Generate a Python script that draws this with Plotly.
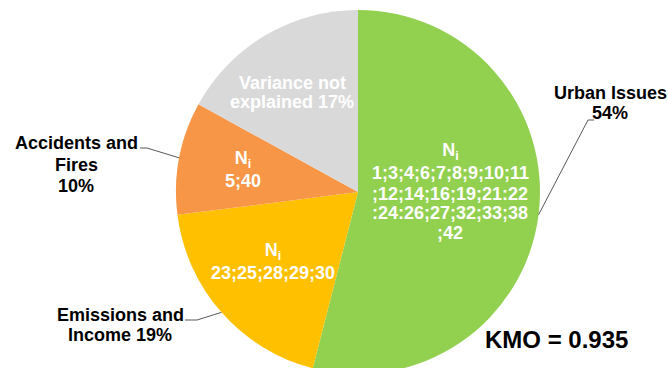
import math
import plotly.graph_objects as go

# ---- data ----
categories = ["Urban Issues", "Emissions and Income", "Accidents and Fires", "Variance not explained"]
values = [54, 19, 10, 17]
colors = ["#92D050", "#FFC000", "#F79646", "#D9D9D9"]
inner_text_green = ["N<sub>i</sub><br>1;3;4;6;7;8;9;10;11", ";12;14;16;19;21:22", ":24:26;27;32;33;38", ";42"]
inner_text_yellow = ["N<sub>i</sub><br>23;25;28;29;30"]
inner_text_orange = ["N<sub>i</sub><br>5;40"]
inner_text_gray = ["Variance not", "explained 17%"]
outer_green = ["Urban Issues", "54%"]
outer_yellow = ["Emissions and", "Income 19%"]
outer_orange = ["Accidents and", "Fires", "10%"]
kmo_text = "KMO = 0.935"

W, H = 668, 376
FONT = "Liberation Sans"

# pie geometry (pixels)
dom_x = [176 / W, 540 / W]
dom_y = [1 - 374 / H, 1 - 10 / H]
cx = (dom_x[0] + dom_x[1]) / 2 * W
cy = (1 - (dom_y[0] + dom_y[1]) / 2) * H
R = min((dom_x[1] - dom_x[0]) * W, (dom_y[1] - dom_y[0]) * H) / 2


def px(x, y):
    return x / W, 1 - y / H


def edge_point(i):
    tot = sum(values)
    start = sum(values[:i]) / tot
    mid = (start + values[i] / tot / 2) * 2 * math.pi
    return cx + R * math.sin(mid), cy - R * math.cos(mid)


fig = go.Figure(go.Pie(
    labels=categories, values=values, sort=False, direction="clockwise", rotation=0,
    marker=dict(colors=colors, line=dict(width=0)),
    textinfo="none", hoverinfo="label+percent", showlegend=False,
    domain=dict(x=dom_x, y=dom_y),
))

annotations = []


def add_lines(lines, x, ys, color, size=18):
    for t, y in zip(lines, ys):
        ax, ay = px(x, y)
        annotations.append(dict(text=t, x=ax, y=ay, xref="paper", yref="paper",
                                xanchor="center", yanchor="middle", showarrow=False,
                                font=dict(family=FONT, size=size, color=color, weight="bold")))


add_lines(inner_text_green, 450, [161.5, 194, 213, 232.5], "white")
add_lines(inner_text_orange, 243, [169], "white")
add_lines(inner_text_yellow, 273, [261.5], "white")
add_lines(inner_text_gray, 292, [83, 102], "white")
add_lines(outer_green, 610, [93, 113], "black")
add_lines(outer_yellow, 120, [315, 335], "black")
add_lines(outer_orange, 76, [143, 164.5, 186], "black")
add_lines([kmo_text], 556, [339], "black", size=24)

shapes = []


def leader(points, i):
    ex, ey = edge_point(i)
    pts = [px(*p) for p in points] + [px(ex, ey)]
    path = "M " + " L ".join(f"{a},{b}" for a, b in pts)
    shapes.append(dict(type="path", path=path, xref="paper", yref="paper",
                       line=dict(color="#595959", width=1)))


leader([(594, 120), (588, 120)], 0)
leader([(185, 320), (197, 320)], 1)
leader([(140, 148), (147, 148)], 2)

fig.update_layout(width=W, height=H, margin=dict(l=0, r=0, t=0, b=0),
                  paper_bgcolor="white", plot_bgcolor="white",
                  annotations=annotations, shapes=shapes)

fig.write_html("out.html")
